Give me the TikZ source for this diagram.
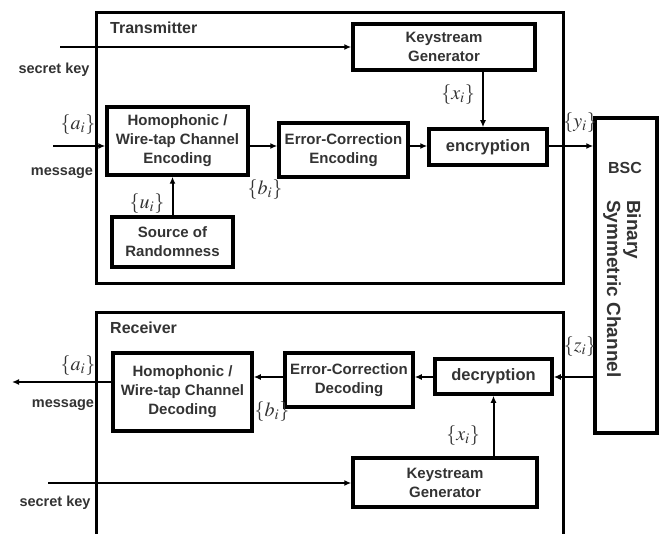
\documentclass[tikz,border=0pt]{standalone}
\usepackage{mathptmx}
\usepackage{fontspec}
\setmainfont{Liberation Sans}
\usetikzlibrary{arrows.meta}
\definecolor{txt}{HTML}{333333}
\begin{document}
\begin{tikzpicture}[x=1pt,y=-1pt,
 blk/.style={draw, line width=3.5pt, inner sep=0pt, align=center,
   font=\fontsize{15}{19}\selectfont\bfseries, text=txt},
 frame/.style={line width=3pt},
 arr/.style={line width=2pt, -{Latex[length=7pt,width=6pt]}},
 lab/.style={font=\fontsize{14.5}{16}\selectfont\bfseries, text=txt, inner sep=0pt},
 ttl/.style={font=\fontsize{16}{18}\selectfont\bfseries, text=txt, inner sep=0pt, anchor=west},
 mlab/.style={font=\fontsize{20}{22}\selectfont, text=txt, inner sep=0pt},
]
\useasboundingbox (0,0) rectangle (660,534);

% frames
\node[draw, frame, minimum width=467pt, minimum height=270pt, inner sep=0pt] (tx) at (329.5,148) {};
\draw[frame] (96,534) -- (96,312) -- (563,312) -- (563,534);
\node[ttl] (txl) at (110,28) {Transmitter};
\node[ttl] (rxl) at (110,328) {Receiver};

% transmitter blocks
\node[blk, minimum width=141pt, minimum height=68pt] (homt) at (177.5,141) {Homophonic /\\Wire-tap Channel\\Encoding};
\node[blk, minimum width=129pt, minimum height=54pt] (ect) at (343.5,150) {Error-Correction\\Encoding};
\node[blk, minimum width=118pt, minimum height=36pt, font=\fontsize{16.5}{18}\selectfont\bfseries] (enc) at (488,147) {encryption};
\node[blk, minimum width=182pt, minimum height=46pt] (kst) at (444,47) {Keystream\\Generator};
\node[blk, minimum width=121pt, minimum height=50pt] (sor) at (172.5,242) {Source of\\Randomness};

% BSC
\node[draw, line width=3.5pt, minimum width=62pt, minimum height=315pt, inner sep=0pt] (bsc) at (626,275.5) {};
\node[font=\fontsize{16}{18}\selectfont\bfseries, text=txt, inner sep=0pt] (bscl) at (625,168) {BSC};
\node[rotate=-90, anchor=west, align=left, inner sep=0pt,
  font=\fontsize{19}{20}\selectfont\bfseries, text=txt] (bsct) at (622,200) {Binary\\Symmetric Channel};

% receiver blocks
\node[blk, minimum width=139pt, minimum height=78pt] (homr) at (182.5,392) {Homophonic /\\Wire-tap Channel\\Decoding};
\node[blk, minimum width=128pt, minimum height=54pt] (ecr) at (349,380) {Error-Correction\\Decoding};
\node[blk, minimum width=117pt, minimum height=35pt, font=\fontsize{16.5}{18}\selectfont\bfseries] (dec) at (493.5,376.5) {decryption};
\node[blk, minimum width=184pt, minimum height=49pt] (ksr) at (445,482.5) {Keystream\\Generator};

% transmitter connectors
\coordinate (skt) at (60,47);
\coordinate (mt) at (53,146);
\coordinate (xk) at (483,0);
\draw[arr] (skt) -- (kst.west);
\draw[arr] (mt) -- (mt -| homt.west);
\draw[arr] (homt.east |- mt) -- (ect.west |- mt);
\draw[arr] (ect.east |- mt) -- (enc.west |- mt);
\draw[arr] (enc.east |- mt) -- (bsc.west |- mt);
\draw[arr] (kst.south -| xk) -- (enc.north -| xk);
\draw[arr] (sor.north) -- (homt.south -| sor.north);

% receiver connectors
\coordinate (rr) at (0,377);
\coordinate (mo) at (12,382);
\coordinate (skr) at (48,483);
\draw[arr] (bsc.west |- rr) -- (dec.east |- rr);
\draw[arr] (dec.west |- rr) -- (ecr.east |- rr);
\draw[arr] (ecr.west |- rr) -- (homr.east |- rr);
\draw[arr] (homr.west |- mo) -- (mo);
\draw[arr] (ksr.north -| dec.south) -- (dec.south);
\draw[arr] (skr) -- (skr -| ksr.west);

% labels
\node[lab] (sk1) at (54,70) {secret key};
\node[lab] (ms1) at (62,173) {message};
\node[mlab] (a1) at (78,125) {$\{a_i\}$};
\node[mlab] (b1) at (265,190) {$\{b_i\}$};
\node[mlab] (u1) at (147,204) {$\{u_i\}$};
\node[mlab] (x1) at (458,95) {$\{x_i\}$};
\node[mlab] (y1) at (580,123) {$\{y_i\}$};

\node[mlab] (a2) at (78,366) {$\{a_i\}$};
\node[lab] (ms2) at (63,405) {message};
\node[mlab] (b2) at (272,412) {$\{b_i\}$};
\node[mlab] (z2) at (580,347) {$\{z_i\}$};
\node[mlab] (x2) at (463,436) {$\{x_i\}$};
\node[lab] (sk2) at (55,503) {secret key};
\end{tikzpicture}
\end{document}
